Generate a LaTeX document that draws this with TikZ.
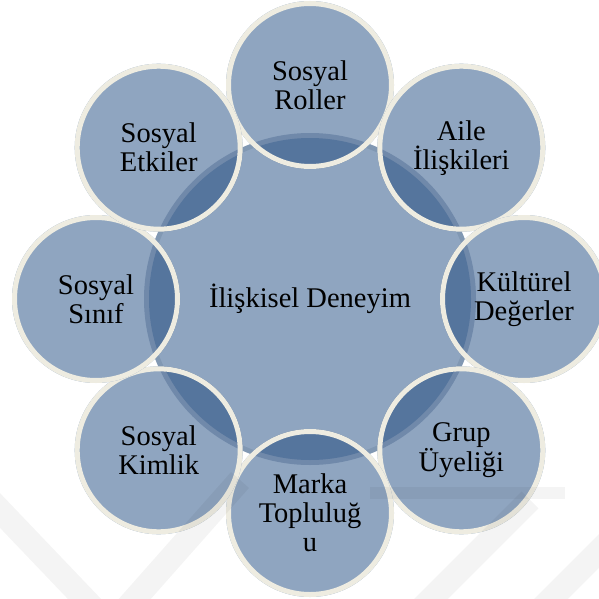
\documentclass[tikz,border=0pt]{standalone}
\usepackage{fontspec}
\setmainfont{Liberation Serif}
\definecolor{discfill}{HTML}{8FA5C0}
\definecolor{discdark}{HTML}{55759D}
\definecolor{ringlight}{HTML}{8198B3}
\definecolor{ringdark}{HTML}{7089AA}
\definecolor{rimcream}{HTML}{EEECE1}
\tikzset{
  caption/.style={align=center, font=\fontsize{28.5}{29}\selectfont, text=black, inner sep=0pt},
  rim/.style={draw=rimcream, line width=5pt},
  stamp/.style={line width=24pt, draw=black, draw opacity=0.045, line cap=butt},
}
\begin{document}
\begin{tikzpicture}[x=1pt,y=-1pt]
\useasboundingbox (0,0) rectangle (599,599);

% central disc with its soft rim
\coordinate (hub) at (310,299);
\fill[ringlight] (hub) circle (166);
\fill[discfill] (hub) circle (161);

% satellite discs; the part over the central disc is shaded darker
\foreach \n/\px/\py in {roller/310/85, aile/461.3/147.7, kultur/524/299,
    grup/461.3/450.3, marka/310/513, kimlik/158.7/450.3, sinif/96/299,
    etki/158.7/147.7}{
  \coordinate (\n) at (\px,\py);
  \fill[discfill] (\n) circle (84);
  \begin{scope}
    \clip (\n) circle (84);
    \fill[ringdark] (hub) circle (166);
    \fill[discdark] (hub) circle (161);
  \end{scope}
  \draw[rim] (\n) circle (81.5);
}

% labels
\node[caption] (tHub) at (hub) {İlişkisel Deneyim};
\node[caption] (tRoller) at (roller) {Sosyal\\Roller};
\node[caption] (tAile) at (aile) {Aile\\İlişkileri};
\node[caption] (tKultur) at (kultur) {Kültürel\\Değerler};
\node[caption] (tGrup) at (grup) {Grup\\Üyeliği};
\node[caption] (tMarka) at (marka) {Marka\\Topluluğ\\u};
\node[caption] (tKimlik) at (kimlik) {Sosyal\\Kimlik};
\node[caption] (tSinif) at (sinif) {Sosyal\\Sınıf};
\node[caption] (tEtki) at (etki) {Sosyal\\Etkiler};

% faint background emblem strokes
\draw[stamp] (-10,500) -- (95,610);
\draw[stamp] (125,610) -- (240,480);
\draw[stamp, line width=12pt] (370,493) -- (565,493);
\draw[stamp] (420,610) -- (530,500);
\draw[stamp] (540,610) -- (610,540);
\end{tikzpicture}
\end{document}
